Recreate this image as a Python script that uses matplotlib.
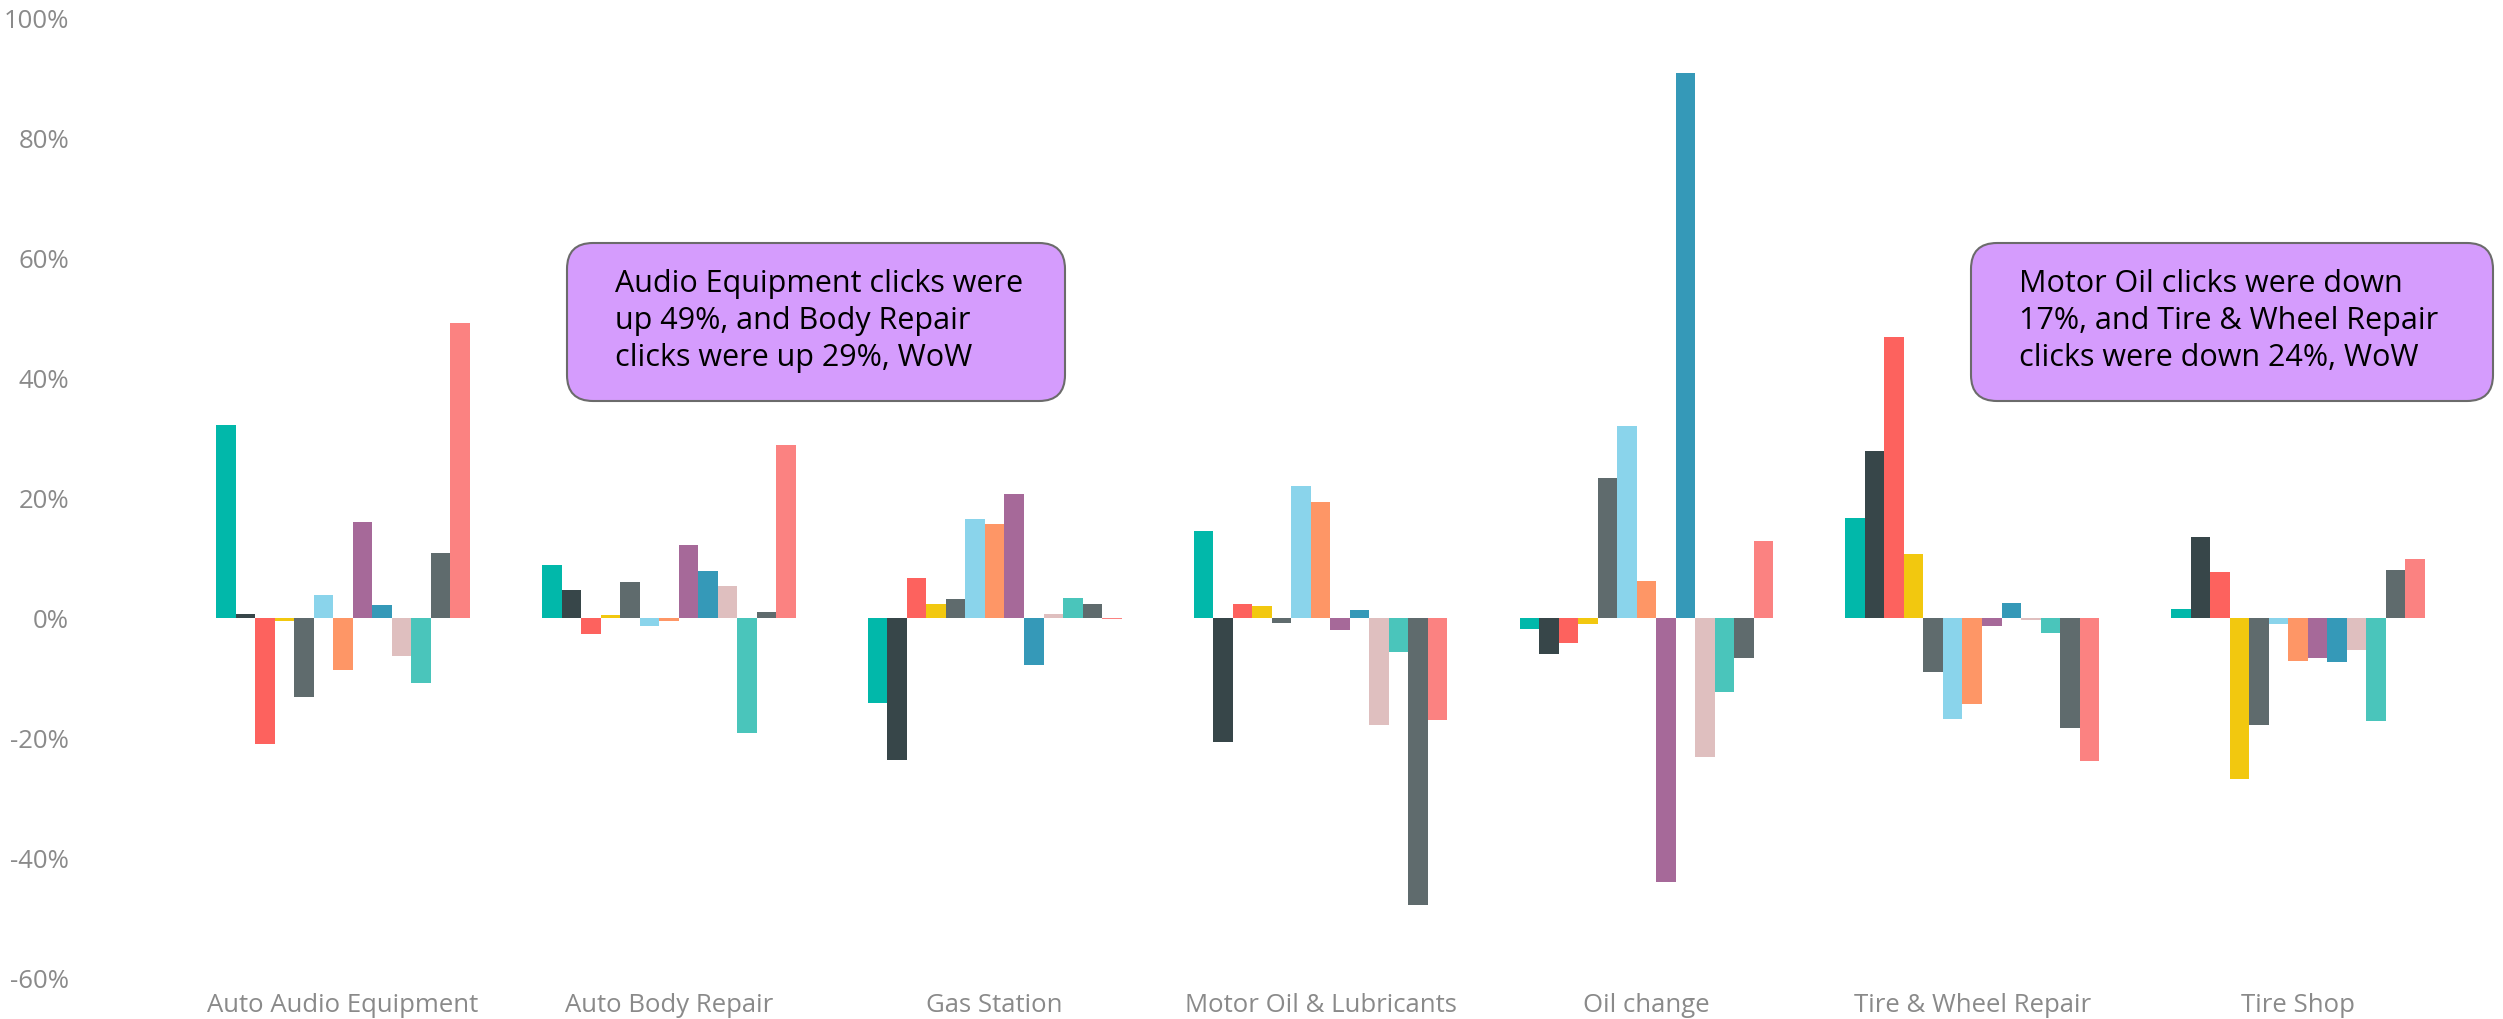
import matplotlib.pyplot as plt
import numpy as np
from matplotlib.patches import FancyBboxPatch
from matplotlib.transforms import IdentityTransform

plt.rcParams["font.family"] = ["Open Sans", "DejaVu Sans"]

categories = ["Auto Audio Equipment", "Auto Body Repair", "Gas Station",
              "Motor Oil & Lubricants", "Oil change", "Tire & Wheel Repair", "Tire Shop"]

# week-over-week click change (%), one list per series, one value per category
s01 = [32.2, 8.9, -14.1, 14.5, -1.9, 16.7, 1.5]
s02 = [0.6, 4.7, -23.6, -20.7, -6.0, 27.8, 13.5]
s03 = [-21.0, -2.7, 6.6, 2.4, -4.1, 46.8, 7.7]
s04 = [-0.5, 0.45, 2.4, 2.0, -1.0, 10.7, -26.8]
s05 = [-13.2, 6.0, 3.1, -0.9, 23.4, -9.0, -17.9]
s06 = [3.8, -1.3, 16.5, 22.0, 32.0, -16.8, -1.0]
s07 = [-8.6, -0.5, 15.6, 19.3, 6.1, -14.4, -7.2]
s08 = [16.0, 12.1, 20.7, -2.0, -44.0, -1.3, -6.6]
s09 = [2.1, 7.8, -7.9, 1.3, 90.8, 2.5, -7.4]
s10 = [-6.3, 5.4, 0.6, -17.8, -23.2, -0.3, -5.4]
s11 = [-10.9, -19.2, 3.4, -5.7, -12.3, -2.5, -17.2]
s12 = [10.8, 1.0, 2.4, -47.9, -6.7, -18.3, 8.0]
s13 = [49.1, 28.8, -0.2, -17.0, 12.8, -23.8, 9.9]
series = [s01, s02, s03, s04, s05, s06, s07, s08, s09, s10, s11, s12, s13]

colors = ["#01B8AA", "#374649", "#FD625E", "#F2C80F", "#5F6B6D", "#8AD4EB", "#FE9666",
          "#A66999", "#3599B8", "#DFBFBF", "#4AC5BB", "#5F6B6D", "#FB8281"]

notes = [
    "Audio Equipment clicks were\nup 49%, and Body Repair\nclicks were up 29%, WoW",
    "Motor Oil clicks were down\n17%, and Tire & Wheel Repair\nclicks were down 24%, WoW",
]

W, H = 2503, 1020
fig = plt.figure(figsize=(W / 100, H / 100), dpi=100)
ax = fig.add_axes([90 / W, 41 / H, 2371 / W, 960 / H])

x = np.arange(len(categories))
bw = 0.0599
n = len(series)
for i, (vals, c) in enumerate(zip(series, colors)):
    ax.bar(x + (i - (n - 1) / 2) * bw, vals, width=bw, color=c, linewidth=0)

ax.set_xlim(-0.7766, 6.5)
ax.set_ylim(-60, 100)
ax.set_yticks(np.arange(-60, 101, 20))
ax.set_yticklabels(["{}%".format(v) for v in range(-60, 101, 20)])
ax.set_xticks(x)
ax.set_xticklabels(categories)
ax.tick_params(axis="y", length=0, pad=15, labelsize=18.5, labelcolor="#8a8a8a")
ax.tick_params(axis="x", length=0, pad=10, labelsize=18.5, labelcolor="#8a8a8a")
for sp in ax.spines.values():
    sp.set_visible(False)

# callout boxes, positioned in pixels from the top-left corner
boxes = [(567, 244, 498, 158), (1971, 244, 522, 158)]
for (bx, by, bwid, bh), txt in zip(boxes, notes):
    patch = FancyBboxPatch((bx, H - by - bh), bwid, bh,
                           boxstyle="round,pad=0,rounding_size=26",
                           facecolor="#D59CFD", edgecolor="#6b6b6b", linewidth=1.5,
                           transform=IdentityTransform(), zorder=5)
    fig.patches.append(patch)
    fig.text((bx + 48) / W, 1 - (by + 77) / H, txt, ha="left", va="center",
             fontsize=22, linespacing=1.3, color="black", zorder=6)

fig.savefig("out.png", dpi=100)
